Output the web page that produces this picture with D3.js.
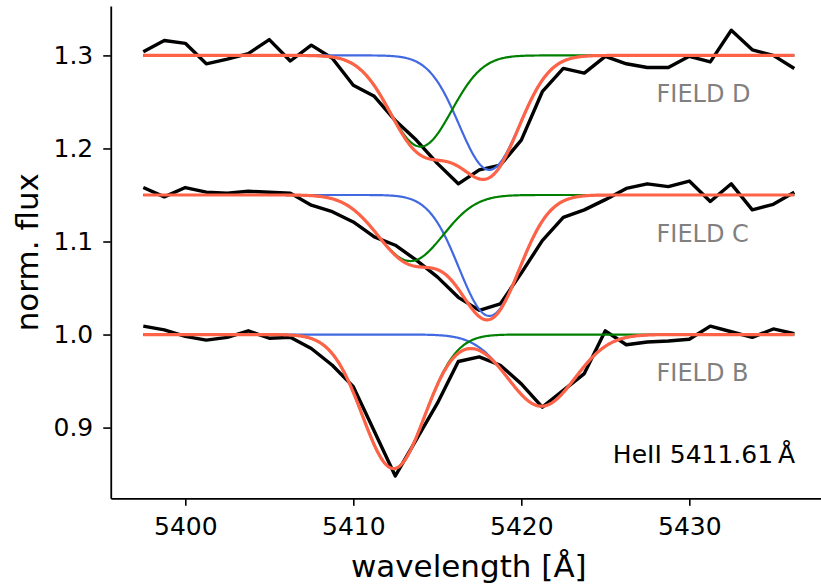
<!DOCTYPE html>
<html>
<head>
<meta charset="utf-8">
<script src="https://cdn.jsdelivr.net/npm/d3@7/dist/d3.min.js"></script>
<style>
  body { margin: 0; background: #ffffff; }
  svg text { font-family: "DejaVu Sans", sans-serif; }
</style>
</head>
<body>
<svg id="chart" width="821" height="587"></svg>
<script>
// Observed HeII 5411.61 spectra (MUSE sampling, 1.25 Å per pixel)
const wavelength = [
  5397.50, 5398.75, 5400.00, 5401.25, 5402.50, 5403.75, 5405.00, 5406.25,
  5407.50, 5408.75, 5410.00, 5411.25, 5412.50, 5413.75, 5415.00, 5416.25,
  5417.50, 5418.75, 5420.00, 5421.25, 5422.50, 5423.75, 5425.00, 5426.25,
  5427.50, 5428.75, 5430.00, 5431.25, 5432.50, 5433.75, 5435.00, 5436.25
];
const fluxD = [
  1.304, 1.316, 1.313, 1.291, 1.296, 1.302, 1.317, 1.294,
  1.311, 1.297, 1.268, 1.256, 1.230, 1.209, 1.184, 1.162,
  1.177, 1.182, 1.209, 1.261, 1.286, 1.281, 1.299, 1.291,
  1.287, 1.287, 1.299, 1.293, 1.327, 1.306, 1.300, 1.286
];
const fluxC = [
  1.158, 1.148, 1.158, 1.153, 1.152, 1.154, 1.153, 1.152,
  1.139, 1.132, 1.121, 1.105, 1.096, 1.080, 1.062, 1.040,
  1.026, 1.033, 1.066, 1.101, 1.126, 1.134, 1.145, 1.157,
  1.162, 1.159, 1.165, 1.143, 1.162, 1.134, 1.140, 1.153
];
const fluxB = [
  1.009, 1.005, 0.998, 0.994, 0.997, 1.004, 0.996, 0.997,
  0.985, 0.967, 0.944, 0.896, 0.848, 0.887, 0.926, 0.971,
  0.976, 0.967, 0.947, 0.922, 0.940, 0.958, 1.004, 0.989,
  0.992, 0.993, 0.995, 1.009, 1.003, 0.997, 1.006, 1.001
];

// Two-component Gaussian fits per field (blue = component 1, green = component 2)
const fieldNames   = ["FIELD D", "FIELD C", "FIELD B"];
const continuum    = [1.30, 1.15, 1.00];
const blueCenter   = [5418.1, 5418.1, 5421.2];
const blueDepth    = [0.123, 0.130, 0.077];
const blueSigma    = [1.80, 1.80, 2.00];
const greenCenter  = [5414.0, 5413.4, 5412.4];
const greenDepth   = [0.098, 0.071, 0.144];
const greenSigma   = [1.85, 1.95, 1.85];

const xTicks = [5400, 5410, 5420, 5430];
const yTicks = [0.9, 1.0, 1.1, 1.2, 1.3];
const lineLabel = "HeII 5411.61\u2009Å";

const svg = d3.select("#chart");

const x = d3.scaleLinear().domain([5395.5625, 5438.1875]).range([110.75, 826.85]);
const y = d3.scaleLinear().domain([0.824, 1.353]).range([498.3, 6.1]);

// spectra and fitted profiles
const gauss = (w, c, d, s) => d * Math.exp(-((w - c) ** 2) / (2 * s * s));
const modelGrid = d3.range(wavelength[0], wavelength[wavelength.length - 1] + 1e-9, 0.05);

const line = d3.line().x(d => x(d[0])).y(d => y(d[1]));

const observed = [fluxD, fluxC, fluxB];
const plot = svg.append("g");

observed.forEach((flux, k) => {
  const pts = wavelength.map((w, i) => [w, flux[i]]);
  const blue = modelGrid.map(w => [w, continuum[k] - gauss(w, blueCenter[k], blueDepth[k], blueSigma[k])]);
  const green = modelGrid.map(w => [w, continuum[k] - gauss(w, greenCenter[k], greenDepth[k], greenSigma[k])]);
  const total = modelGrid.map(w => [w, continuum[k]
      - gauss(w, blueCenter[k], blueDepth[k], blueSigma[k])
      - gauss(w, greenCenter[k], greenDepth[k], greenSigma[k])]);

  plot.append("path").datum(pts).attr("d", line)
    .attr("fill", "none").attr("stroke", "#000000").attr("stroke-width", 3.4)
    .attr("stroke-linejoin", "round");
  plot.append("path").datum(blue).attr("d", line)
    .attr("fill", "none").attr("stroke", "#4169e1").attr("stroke-width", 2.2);
  plot.append("path").datum(green).attr("d", line)
    .attr("fill", "none").attr("stroke", "#008000").attr("stroke-width", 2.2);
  plot.append("path").datum(total).attr("d", line)
    .attr("fill", "none").attr("stroke", "#ff6347").attr("stroke-width", 3.2)
    .attr("stroke-linejoin", "round");

  svg.append("text")
    .attr("x", x(5428.05)).attr("y", y(continuum[k] - 0.05))
    .attr("font-size", 24).attr("fill", "#808080")
    .text(fieldNames[k]);
});

svg.append("text")
  .attr("x", x(5425.45)).attr("y", y(0.8617))
  .attr("font-size", 25).attr("fill", "#000000")
  .text(lineLabel);

// axes: left and bottom spines only
const xAxis = svg.append("g").attr("transform", `translate(0,${y.range()[0]})`)
  .call(d3.axisBottom(x).tickValues(xTicks).tickFormat(d3.format("d"))
        .tickSizeInner(7.5).tickSizeOuter(0).tickPadding(11));
const yAxis = svg.append("g").attr("transform", `translate(${x.range()[0]},0)`)
  .call(d3.axisLeft(y).tickValues(yTicks).tickFormat(d3.format(".1f"))
        .tickSizeInner(7.5).tickSizeOuter(0).tickPadding(10));

[xAxis, yAxis].forEach(g => {
  g.select(".domain").attr("stroke", "#000").attr("stroke-width", 1.8);
  g.selectAll(".tick line").attr("stroke", "#000").attr("stroke-width", 1.6);
  g.selectAll(".tick text").attr("font-size", 25).attr("fill", "#000")
    .attr("font-family", "DejaVu Sans, sans-serif");
});

svg.append("text")
  .attr("x", (x.range()[0] + x.range()[1]) / 2).attr("y", 577)
  .attr("text-anchor", "middle").attr("font-size", 31)
  .text("wavelength [Å]");

svg.append("text")
  .attr("transform", `translate(38,${(y.range()[0] + y.range()[1]) / 2}) rotate(-90)`)
  .attr("text-anchor", "middle").attr("font-size", 31)
  .text("norm. flux");
</script>
</body>
</html>
